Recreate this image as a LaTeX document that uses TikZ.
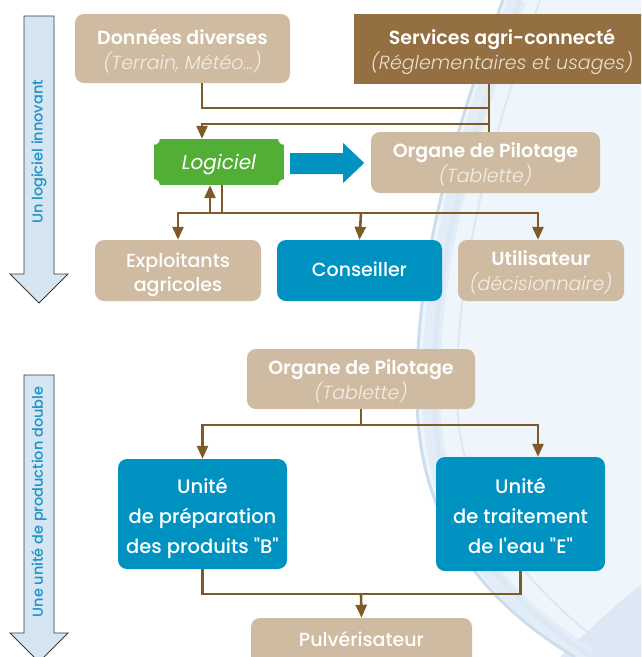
\documentclass[tikz,border=0pt]{standalone}
\usepackage{fontspec}
\setmainfont{Poppins}[BoldFont={* SemiBold},ItalicFont={* Light Italic}]
\newfontface\medfont{Poppins Medium}
\newfontface\itfont{Poppins Italic}
\usetikzlibrary{arrows.meta,calc}
\definecolor{tanc}{HTML}{CEBBA1}
\definecolor{brownc}{HTML}{936F42}
\definecolor{linec}{HTML}{7E5A28}
\definecolor{bluec}{HTML}{0093C2}
\definecolor{greenc}{HTML}{53AE35}
\definecolor{sidefill}{HTML}{D5E5F2}
\definecolor{sidedraw}{HTML}{3A3A3A}
\definecolor{sidetext}{HTML}{1C93C6}
\definecolor{subtan}{HTML}{F4EEE5}
\definecolor{subbrown}{HTML}{EADFCF}
\definecolor{bgA}{HTML}{EEF5FB}
\definecolor{bgB}{HTML}{CCDEEE}
\definecolor{bgC}{HTML}{DCE9F4}
\definecolor{bgD}{HTML}{E2EDF7}
% lower the visible text without changing the node's size
\newcommand\lowered[2]{\raisebox{-#1}[\height][\depth]{\begin{tabular}{@{}c@{}}#2\end{tabular}}}
\begin{document}
\begin{tikzpicture}[x=1pt,y=-1pt,
  box/.style={rounded corners=9pt, fill=tanc, text=white, inner sep=0pt,
              font=\fontsize{19}{24}\selectfont},
  bluebox/.style={box, fill=bluec},
  conn/.style={draw=linec, line width=2.6pt},
  arr/.style={conn, -{Triangle[width=11pt,length=13pt]}},
  sidearrow/.style={fill=sidefill, draw=sidedraw, line width=0.8pt},
  sidelabel/.style={rotate=90, text=sidetext, font=\medfont\fontsize{14.5}{16}\selectfont}
  ]
\useasboundingbox (0,0) rectangle (641,657);
\clip (0,0) rectangle (641,657);

% background swoosh
\fill[bgA] (503,0) .. controls (455,130) and (415,260) .. (417,400)
   .. controls (419,520) and (480,600) .. (575,657) -- (641,657) -- (641,0) -- cycle;
\fill[bgC] (560,657) .. controls (595,625) and (620,600) .. (641,585) -- (641,657) -- cycle;
\draw[bgD, line width=18pt] (517,0) .. controls (469,130) and (429,260) .. (431,400)
   .. controls (433,515) and (493,597) .. (589,657);
\draw[bgB, line width=3pt] (503,0) .. controls (455,130) and (415,260) .. (417,400)
   .. controls (419,520) and (480,600) .. (575,657);
\draw[bgC, line width=5pt] (520,0) .. controls (472,130) and (432,260) .. (434,400)
   .. controls (436,515) and (497,595) .. (592,657);
\draw[bgC, line width=2pt] (540,0) .. controls (495,130) and (455,260) .. (457,400)
   .. controls (460,505) and (520,585) .. (620,657);

% side arrows
\path[sidearrow] (24,16) -- (54,16) -- (54,274) -- (68,274) -- (39,303) -- (10,274) -- (24,274) -- cycle;
\node[sidelabel] (lbl1) at (39,152) {Un logiciel innovant};
\path[sidearrow] (24,375) -- (54,375) -- (54,633) -- (68,633) -- (39,662) -- (10,633) -- (24,633) -- cycle;
\node[sidelabel] (lbl2) at (39,502) {Une unité de production double};

% nodes
\node[box, minimum width=215, minimum height=69] (donnees) at (182.5,48.5)
  {\lowered{3.5pt}{\bfseries Données diverses\\\itshape\color{subtan}(Terrain, Météo…)}};
\node[box, rounded corners=0pt, fill=brownc, minimum width=296, minimum height=70] (services) at (502,49)
  {\lowered{3.5pt}{\bfseries Services agri-connecté\\\itshape\color{subbrown}(Réglementaires et usages)}};
\node[box, minimum width=229, minimum height=61] (organe1) at (485.5,162.5)
  {\lowered{3pt}{\bfseries Organe de Pilotage\\\itshape\color{subtan}(Tablette)}};
\node[box, rounded corners=0pt, fill=greenc, minimum width=130, minimum height=46,
      font=\fontsize{20}{24}\selectfont] (logi) at (219,162)
  {\lowered{2.5pt}{\itfont Logiciel}};
\foreach \c in {north west, north east, south west, south east}
  \fill[white] (logi.\c) circle (6pt);
\node[box, minimum width=166, minimum height=61] (explo) at (178,270.5)
  {\lowered{4pt}{\medfont Exploitants\\\medfont agricoles}};
\node[bluebox, minimum width=165, minimum height=61] (conseil) at (359.5,270.5)
  {\lowered{1.5pt}{\medfont Conseiller}};
\node[box, minimum width=166, minimum height=61] (util) at (541,270.5)
  {\lowered{3pt}{\bfseries Utilisateur\\\itshape\color{subtan}(décisionnaire)}};
\node[box, minimum width=228, minimum height=60] (organe2) at (361,379)
  {\lowered{3pt}{\bfseries Organe de Pilotage\\\itshape\color{subtan}(Tablette)}};
\node[bluebox, minimum width=169, minimum height=110, font=\fontsize{19.5}{30}\selectfont] (prep) at (202.5,514)
  {\lowered{3pt}{\medfont Unité\\\medfont de préparation\\\medfont des produits "B"}};
\node[bluebox, minimum width=169, minimum height=114, font=\fontsize{19.5}{30}\selectfont] (trait) at (520.5,514)
  {\lowered{3pt}{\medfont Unité\\\medfont de traitement\\\medfont de l'eau "E"}};
\node[box, minimum width=221, minimum height=52] (pulv) at (361.5,644)
  {\lowered{-2pt}{\medfont Pulvérisateur}};

% junction points
\coordinate (j1) at (489,108);
\coordinate (j2) at (489,124);
\coordinate (h1) at (361,213);
\coordinate (h2) at (361,425);
\coordinate (h3) at (361,594);

% connectors, top part
\draw[conn] ([xshift=19.5]donnees.south) |- (j1);
\draw[conn] (services.south -| j1) -- (organe1.north -| j1);
\draw[arr] (j2) -| ([xshift=-17]logi.north);
\draw[conn] ([xshift=3]logi.south) -- ([xshift=3]logi.south |- h1);
\draw[arr] ([xshift=-9]logi.south |- h1) -- ([xshift=-9]logi.south);
\draw[arr] (h1) -| (explo.north);
\draw[arr] (h1) -- (conseil.north);
\draw[arr] (h1) -| ([xshift=-3]util.north);
\fill[bluec] ($(logi.east)+(6,-9)$) -- ($(logi.east)+(59,-9)$) -- ($(logi.east)+(59,-19)$)
  -- ($(logi.east)+(80,1)$) -- ($(logi.east)+(59,21)$) -- ($(logi.east)+(59,12)$)
  -- ($(logi.east)+(6,12)$) -- cycle;

% connectors, bottom part
\draw[conn] (organe2.south) -- (h2);
\draw[arr] (h2) -| (prep.north);
\draw[arr] (h2) -| ([xshift=17.5]trait.north);
\draw[conn] (prep.south) |- (h3) -| (trait.south);
\draw[arr] (h3) -- (pulv.north);
\end{tikzpicture}
\end{document}
